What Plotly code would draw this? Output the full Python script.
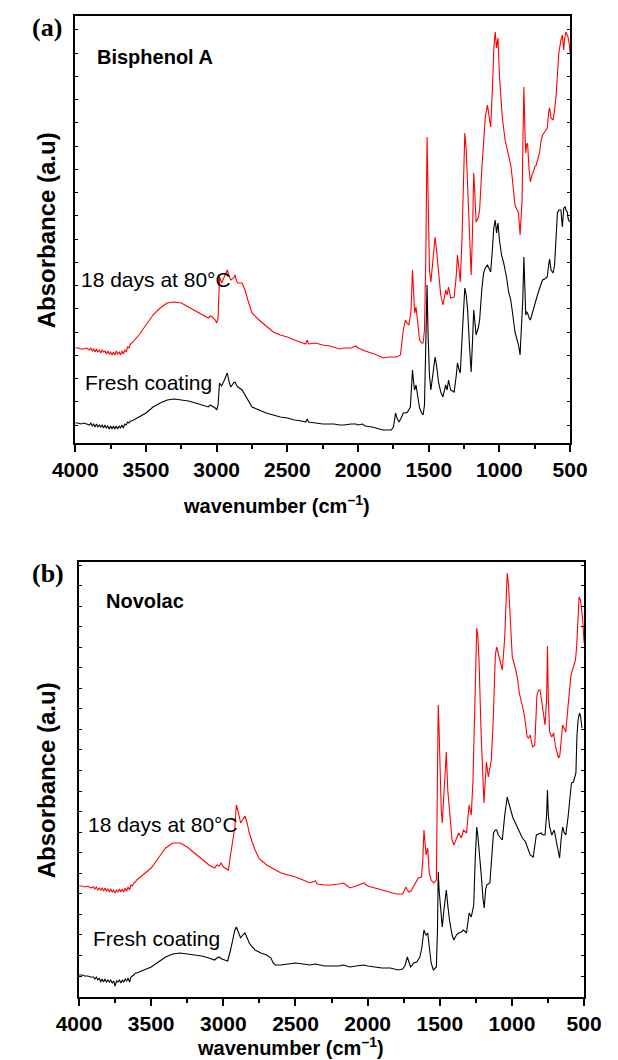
import plotly.graph_objects as go

# ---------------- Panel (a): Bisphenol A ----------------
wn_a_red = [4000, 3980, 3960, 3940, 3920, 3900, 3890, 3880, 3870, 3860, 3850, 3840, 3830, 3820, 3810, 3800,
            3790, 3780, 3770, 3760, 3750, 3740, 3730, 3720, 3710, 3700, 3690, 3680, 3670, 3660, 3650, 3640,
            3630, 3620, 3610, 3600, 3550, 3500, 3450, 3400, 3350, 3300,
            3250, 3200, 3150, 3100, 3060, 3045, 3030, 3010, 3000, 2990, 2980, 2965, 2945, 2925, 2910, 2900,
            2880, 2870, 2860, 2850, 2820, 2800, 2780, 2750, 2700, 2650, 2600, 2550, 2500, 2450, 2400, 2370,
            2360, 2350, 2300, 2250, 2200, 2170, 2130, 2100, 2050, 2015, 2000, 1950, 1900, 1885, 1850, 1820,
            1780, 1750, 1730, 1700, 1680, 1665, 1655, 1640, 1625, 1615, 1605, 1600, 1590, 1580, 1565, 1550,
            1540, 1530, 1520, 1512, 1505, 1495, 1485, 1470, 1455, 1445, 1430, 1415, 1400, 1390, 1380, 1370,
            1360, 1345, 1320, 1305, 1297, 1285, 1277, 1265, 1252, 1245, 1235, 1225, 1210, 1200, 1190, 1182,
            1175, 1165, 1150, 1140, 1125, 1110, 1100, 1085, 1075, 1062, 1050, 1040, 1030, 1025, 1020, 1015,
            1010, 1000, 990, 980, 960, 935, 920, 910, 890, 875, 865, 854, 840, 835, 827, 820, 814, 808, 801,
            790, 781, 770, 760, 750, 740, 730, 715, 705, 695, 680, 662, 650, 645, 635, 620, 610, 600, 590,
            580, 565, 555, 545, 540, 530, 520, 515, 505, 500]
abs_a_red = [0.95, 0.95, 0.94, 0.94, 0.95, 0.93, 0.95, 0.92, 0.94, 0.91, 0.94, 0.91, 0.93, 0.90, 0.93, 0.91,
             0.92, 0.89, 0.92, 0.89, 0.91, 0.88, 0.91, 0.88, 0.92, 0.89, 0.91, 0.88, 0.92, 0.89, 0.93, 0.91,
             0.96, 0.95, 0.99, 1.00, 1.08, 1.18, 1.28, 1.35, 1.40, 1.41,
             1.40, 1.36, 1.32, 1.28, 1.25, 1.27, 1.26, 1.23, 1.20, 1.25, 1.66, 1.60, 1.67, 1.73, 1.66, 1.63,
             1.65, 1.68, 1.62, 1.60, 1.60, 1.53, 1.43, 1.30, 1.23, 1.17, 1.11, 1.08, 1.06, 1.03, 1.00, 0.99,
             1.03, 0.99, 1.00, 0.98, 0.97, 0.96, 0.94, 0.95, 0.95, 0.97, 0.95, 0.92, 0.90, 0.89, 0.87, 0.85,
             0.86, 0.86, 0.86, 0.88, 1.13, 1.23, 1.20, 1.18, 1.33, 1.73, 1.43, 1.30, 1.36, 1.23, 1.03, 1.00,
             1.00, 1.13, 1.93, 3.06, 2.43, 1.73, 1.61, 1.83, 2.06, 1.93, 1.70, 1.48, 1.38, 1.45, 1.53, 1.48,
             1.56, 1.45, 1.46, 1.68, 1.88, 1.73, 1.61, 2.03, 2.93, 3.10, 2.93, 2.56, 1.93, 1.68, 2.13, 2.70,
             2.53, 2.21, 2.25, 2.33, 2.73, 3.13, 3.26, 3.38, 3.28, 3.16, 3.53, 3.93, 4.11, 4.03, 3.95, 4.01,
             4.05, 3.68, 3.43, 3.26, 3.03, 2.86, 2.78, 2.66, 2.38, 2.33, 2.30, 2.08, 2.43, 2.93, 3.56, 3.13,
             2.90, 2.98, 3.00, 2.73, 2.61, 2.68, 2.71, 2.76, 2.78, 2.83, 2.91, 3.03, 3.08, 3.11, 3.15, 3.33,
             3.35, 3.25, 3.23, 3.33, 3.46, 3.68, 3.90, 4.03, 4.08, 3.93, 4.03, 4.11, 4.08, 4.06, 3.98, 3.90]

wn_a_blk = [4000, 3980, 3960, 3940, 3920, 3900, 3890, 3880, 3870, 3860, 3850, 3840, 3830, 3820, 3810, 3800,
            3790, 3780, 3770, 3760, 3750, 3740, 3730, 3720, 3710, 3700, 3690, 3680, 3670, 3660, 3650, 3640,
            3630, 3620, 3610, 3600, 3550, 3500, 3450, 3400, 3350, 3300,
            3250, 3200, 3150, 3100, 3060, 3045, 3030, 3010, 3000, 2990, 2980, 2965, 2945, 2925, 2910, 2900,
            2880, 2870, 2860, 2850, 2820, 2800, 2780, 2750, 2700, 2650, 2600, 2550, 2500, 2450, 2400, 2370,
            2360, 2350, 2300, 2250, 2200, 2170, 2130, 2100, 2050, 2015, 2000, 1970, 1950, 1900, 1850, 1820,
            1765, 1750, 1745, 1735, 1725, 1710, 1695, 1680, 1665, 1650, 1630, 1615, 1605, 1600, 1590, 1580,
            1565, 1550, 1540, 1530, 1520, 1512, 1505, 1495, 1485, 1470, 1455, 1445, 1430, 1415, 1400, 1390,
            1380, 1370, 1360, 1345, 1320, 1305, 1297, 1285, 1277, 1265, 1252, 1245, 1235, 1225, 1210, 1200,
            1190, 1182, 1175, 1165, 1150, 1140, 1125, 1112, 1100, 1085, 1075, 1062, 1050, 1040, 1030, 1025,
            1020, 1015, 1010, 1000, 985, 970, 950, 935, 920, 910, 890, 875, 865, 854, 840, 835, 827, 820,
            814, 808, 801, 790, 781, 765, 750, 735, 720, 710, 695, 680, 662, 650, 645, 635, 620, 610, 600,
            590, 580, 565, 555, 545, 535, 530, 520, 515, 505, 500]
abs_a_blk = [0.20, 0.20, 0.19, 0.20, 0.19, 0.18, 0.20, 0.17, 0.19, 0.16, 0.19, 0.16, 0.18, 0.16, 0.18, 0.15,
             0.18, 0.15, 0.17, 0.14, 0.17, 0.14, 0.17, 0.14, 0.17, 0.14, 0.17, 0.15, 0.18, 0.15, 0.19, 0.18,
             0.21, 0.20, 0.22, 0.22, 0.26, 0.30, 0.36, 0.40, 0.43, 0.44,
             0.43, 0.42, 0.40, 0.38, 0.36, 0.38, 0.37, 0.35, 0.33, 0.38, 0.60, 0.57, 0.63, 0.70, 0.60, 0.56,
             0.60, 0.61, 0.58, 0.56, 0.53, 0.48, 0.43, 0.36, 0.33, 0.30, 0.28, 0.26, 0.25, 0.23, 0.22, 0.21,
             0.24, 0.21, 0.20, 0.19, 0.19, 0.19, 0.18, 0.18, 0.19, 0.19, 0.18, 0.19, 0.17, 0.16, 0.14, 0.13,
             0.13, 0.16, 0.20, 0.30, 0.25, 0.21, 0.25, 0.30, 0.30, 0.31, 0.36, 0.73, 0.58, 0.53, 0.58, 0.48,
             0.35, 0.30, 0.28, 0.38, 1.03, 1.58, 1.10, 0.68, 0.53, 0.73, 0.86, 0.78, 0.60, 0.51, 0.46, 0.52,
             0.58, 0.53, 0.63, 0.53, 0.51, 0.68, 0.80, 0.73, 0.70, 1.03, 1.48, 1.55, 1.48, 1.33, 0.93, 0.71,
             1.03, 1.33, 1.23, 1.08, 1.15, 1.23, 1.53, 1.70, 1.75, 1.78, 1.75, 1.71, 1.93, 2.15, 2.23, 2.16,
             2.10, 2.16, 2.20, 2.03, 1.88, 1.80, 1.66, 1.51, 1.43, 1.33, 1.11, 1.03, 0.98, 0.88, 1.23, 1.43,
             1.86, 1.53, 1.28, 1.31, 1.30, 1.25, 1.23, 1.31, 1.40, 1.46, 1.53, 1.58, 1.63, 1.64, 1.66, 1.80,
             1.84, 1.73, 1.70, 1.78, 2.08, 2.30, 2.33, 2.33, 2.16, 2.35, 2.36, 2.33, 2.31, 2.25, 2.21]

# ---------------- Panel (b): Novolac ----------------
wn_b_red = [4000, 3980, 3960, 3940, 3920, 3900, 3890, 3880, 3870, 3860, 3850, 3840, 3830, 3820, 3810, 3800,
            3790, 3780, 3770, 3760, 3750, 3740, 3730, 3720, 3710, 3700, 3690, 3680, 3670, 3660, 3650, 3640,
            3630, 3620, 3610, 3600, 3550, 3500, 3450, 3400, 3350, 3300,
            3250, 3200, 3150, 3100, 3060, 3045, 3030, 3015, 3000, 2980, 2965, 2950, 2935, 2920, 2910, 2900,
            2880, 2865, 2850, 2835, 2820, 2800, 2780, 2750, 2700, 2650, 2600, 2550, 2500, 2447, 2400, 2361,
            2350, 2300, 2253, 2200, 2167, 2140, 2123, 2080, 2026, 2000, 1950, 1900, 1843, 1800, 1757, 1735,
            1725, 1714, 1700, 1692, 1670, 1649, 1627, 1618, 1610, 1600, 1595, 1584, 1573, 1560, 1541, 1524,
            1516, 1511, 1505, 1498, 1490, 1483, 1470, 1455, 1445, 1433, 1415, 1403, 1385, 1369, 1351, 1336,
            1315, 1300, 1297, 1282, 1270, 1261, 1250, 1244, 1237, 1229, 1214, 1200, 1194, 1185, 1177, 1164,
            1143, 1130, 1123, 1115, 1106, 1095, 1089, 1075, 1067, 1050, 1040, 1033, 1024, 1010, 998, 977,
            960, 949, 930, 917, 905, 895, 885, 874, 865, 857, 842, 835, 827, 815, 805, 795, 788, 771, 760,
            754, 748, 739, 724, 711, 698, 685, 677, 668, 660, 649, 640, 627, 612, 600, 591, 574, 560, 552,
            545, 535, 525, 520, 510, 500]
abs_b_red = [1.11, 1.11, 1.10, 1.11, 1.09, 1.10, 1.08, 1.10, 1.07, 1.09, 1.07, 1.09, 1.06, 1.09, 1.06, 1.08,
             1.05, 1.08, 1.05, 1.07, 1.04, 1.07, 1.05, 1.08, 1.05, 1.08, 1.05, 1.09, 1.06, 1.10, 1.07, 1.12,
             1.11, 1.14, 1.15, 1.17, 1.23, 1.29, 1.39, 1.49, 1.54, 1.54,
             1.50, 1.44, 1.38, 1.32, 1.29, 1.32, 1.31, 1.34, 1.30, 1.28, 1.27, 1.42, 1.57, 1.70, 1.92, 1.87,
             1.74, 1.77, 1.81, 1.74, 1.64, 1.55, 1.47, 1.38, 1.32, 1.28, 1.24, 1.22, 1.20, 1.17, 1.14, 1.16,
             1.13, 1.12, 1.12, 1.13, 1.14, 1.11, 1.09, 1.11, 1.14, 1.11, 1.09, 1.07, 1.04, 1.03, 1.03, 1.10,
             1.07, 1.05, 1.06, 1.08, 1.13, 1.19, 1.20, 1.37, 1.67, 1.45, 1.42, 1.49, 1.24, 1.17, 1.14, 1.17,
             1.97, 2.92, 2.67, 2.27, 1.87, 1.74, 2.07, 2.45, 2.07, 1.84, 1.57, 1.52, 1.59, 1.64, 1.59, 1.67,
             1.64, 1.87, 1.92, 1.82, 2.17, 2.70, 3.37, 3.69, 3.62, 3.40, 2.64, 2.12, 1.94, 2.17, 2.35, 2.20,
             2.37, 2.77, 3.17, 3.42, 3.50, 3.44, 3.40, 3.32, 3.27, 3.60, 4.02, 4.24, 4.12, 3.67, 3.40, 3.29,
             3.17, 3.04, 2.92, 2.84, 2.72, 2.60, 2.59, 2.62, 2.55, 2.50, 2.52, 2.77, 3.02, 3.07, 3.07, 2.97,
             2.90, 2.72, 2.97, 3.51, 2.97, 2.65, 2.60, 2.64, 2.50, 2.42, 2.39, 2.42, 2.54, 2.72, 2.69, 2.65,
             2.90, 3.07, 3.22, 3.30, 3.37, 3.50, 3.77, 4.00, 3.97, 3.92, 3.77, 3.54]

wn_b_blk = [4000, 3980, 3960, 3940, 3920, 3900, 3890, 3880, 3870, 3860, 3850, 3840, 3830, 3820, 3810, 3800,
            3790, 3780, 3770, 3760, 3750, 3740, 3730, 3720, 3710, 3700, 3690, 3680, 3670, 3660, 3650, 3640,
            3630, 3620, 3610, 3600, 3550, 3500, 3450, 3400, 3350, 3300,
            3250, 3200, 3150, 3100, 3060, 3045, 3030, 3010, 2990, 2970, 2950, 2935, 2920, 2910, 2895, 2880,
            2865, 2850, 2835, 2820, 2800, 2780, 2740, 2700, 2670, 2655, 2640, 2600, 2550, 2500, 2447, 2400,
            2361, 2300, 2253, 2200, 2167, 2123, 2080, 2026, 2000, 1950, 1900, 1843, 1789, 1757, 1740, 1725,
            1715, 1703, 1690, 1681, 1660, 1638, 1625, 1610, 1600, 1595, 1584, 1573, 1560, 1545, 1524, 1516,
            1511, 1505, 1498, 1490, 1483, 1470, 1455, 1445, 1433, 1415, 1403, 1385, 1369, 1351, 1336, 1315,
            1300, 1297, 1282, 1265, 1255, 1244, 1237, 1229, 1214, 1200, 1192, 1183, 1175, 1153, 1140, 1128,
            1115, 1106, 1095, 1085, 1067, 1050, 1040, 1033, 1024, 1014, 993, 960, 928, 906, 885, 874, 853,
            842, 831, 815, 799, 785, 771, 760, 754, 748, 739, 724, 707, 692, 680, 670, 660, 649, 640, 627,
            612, 600, 588, 574, 557, 550, 542, 532, 525, 515, 500]
abs_b_blk = [0.22, 0.22, 0.21, 0.21, 0.20, 0.20, 0.18, 0.20, 0.17, 0.19, 0.15, 0.18, 0.15, 0.18, 0.15, 0.17,
             0.15, 0.17, 0.14, 0.16, 0.11, 0.16, 0.15, 0.17, 0.14, 0.17, 0.15, 0.18, 0.16, 0.19, 0.15, 0.20,
             0.21, 0.22, 0.24, 0.24, 0.27, 0.30, 0.35, 0.40, 0.43, 0.44,
             0.43, 0.42, 0.41, 0.39, 0.37, 0.39, 0.40, 0.38, 0.37, 0.36, 0.47, 0.57, 0.67, 0.70, 0.64, 0.59,
             0.62, 0.64, 0.59, 0.54, 0.50, 0.47, 0.44, 0.42, 0.39, 0.34, 0.32, 0.32, 0.33, 0.34, 0.33, 0.32,
             0.33, 0.31, 0.31, 0.31, 0.32, 0.30, 0.31, 0.32, 0.31, 0.30, 0.29, 0.29, 0.27, 0.28, 0.32, 0.40,
             0.35, 0.30, 0.32, 0.34, 0.35, 0.40, 0.49, 0.67, 0.63, 0.62, 0.64, 0.47, 0.34, 0.27, 0.30, 0.67,
             1.25, 1.07, 0.94, 0.79, 0.70, 0.89, 1.07, 0.92, 0.77, 0.62, 0.57, 0.62, 0.64, 0.65, 0.67, 0.64,
             0.79, 0.84, 0.80, 0.92, 1.37, 1.70, 1.62, 1.50, 1.24, 0.97, 0.89, 1.07, 1.12, 1.14, 1.37, 1.64,
             1.67, 1.67, 1.62, 1.60, 1.57, 1.82, 1.97, 2.00, 1.95, 1.90, 1.79, 1.69, 1.59, 1.55, 1.47, 1.42,
             1.40, 1.52, 1.62, 1.63, 1.64, 1.62, 1.62, 1.82, 2.07, 1.82, 1.70, 1.62, 1.67, 1.55, 1.45, 1.39,
             1.57, 1.70, 1.65, 1.62, 1.79, 1.97, 2.14, 2.15, 2.24, 2.60, 2.77, 2.84, 2.81, 2.69]

# ---------------- Figure ----------------
W, H = 618, 1060
def px(x):
    return x / W
def py(y):
    return 1 - y / H

fig = go.Figure()
fig.add_trace(go.Scatter(x=wn_a_red, y=abs_a_red, mode="lines", line=dict(color="#ff0000", width=1.1),
                         xaxis="x", yaxis="y", showlegend=False))
fig.add_trace(go.Scatter(x=wn_a_blk, y=abs_a_blk, mode="lines", line=dict(color="#000000", width=1.1),
                         xaxis="x", yaxis="y", showlegend=False))
fig.add_trace(go.Scatter(x=wn_b_red, y=abs_b_red, mode="lines", line=dict(color="#ff0000", width=1.1),
                         xaxis="x2", yaxis="y2", showlegend=False))
fig.add_trace(go.Scatter(x=wn_b_blk, y=abs_b_blk, mode="lines", line=dict(color="#000000", width=1.1),
                         xaxis="x2", yaxis="y2", showlegend=False))

lab = "Liberation Sans, Arial, sans-serif"
serif = "Liberation Serif, Times New Roman, serif"
tickfont = dict(family=lab, size=21, color="black", weight="bold")

major = [4000, 3500, 3000, 2500, 2000, 1500, 1000, 500]
minor = [3750, 3250, 2750, 2250, 1750, 1250, 750]

def xaxis_cfg(domain, anchor):
    return dict(domain=domain, anchor=anchor, range=[4000, 500], autorange=False,
                tickmode="array", tickvals=major, ticktext=[str(v) for v in major],
                ticks="outside", ticklen=7, tickwidth=1.5, tickcolor="black",
                minor=dict(tickmode="array", tickvals=minor,
                           ticks="outside", ticklen=4, tickwidth=1.5, tickcolor="black"),
                showline=True, linecolor="black", linewidth=2, mirror=True,
                showgrid=False, zeroline=False, tickfont=tickfont)

def yaxis_cfg(domain, anchor, rng, t0, dt):
    return dict(domain=domain, anchor=anchor, range=rng, autorange=False,
                tick0=t0, dtick=dt, tickmode="linear", showticklabels=False,
                ticks="inside", ticklen=3, tickwidth=1, tickcolor="black",
                showline=True, linecolor="black", linewidth=2, mirror="ticks",
                showgrid=False, zeroline=False)

fig.update_layout(
    width=W, height=H, margin=dict(l=0, r=0, t=0, b=0),
    paper_bgcolor="white", plot_bgcolor="white",
    xaxis=xaxis_cfg([px(56), px(586)], "y"),
    yaxis=yaxis_cfg([py(443), py(16)], "x", [0, 4.27], 0.18, 0.2324),
    xaxis2=xaxis_cfg([px(60), px(601)], "y2"),
    yaxis2=yaxis_cfg([py(997), py(562)], "x2", [0, 4.35], 0.21, 0.2055),
)

ann = [
    dict(text="<b>(a)</b>", x=px(26), y=py(27), font=dict(family=serif, size=26), xanchor="center"),
    dict(text="<b>Bisphenol A</b>", x=px(77), y=py(57), font=dict(family=lab, size=20), xanchor="left"),
    dict(text="18 days at 80°C", x=px(60), y=py(279), font=dict(family=lab, size=21), xanchor="left"),
    dict(text="Fresh coating", x=px(64), y=py(382), font=dict(family=lab, size=21), xanchor="left"),
    dict(text="<b>Absorbance (a.u)</b>", x=px(25), y=py(230), textangle=-90,
         font=dict(family=lab, size=24), xanchor="center"),
    dict(text="<b>wavenumber (cm<sup>–1</sup>)</b>", x=px(272), y=py(505),
         font=dict(family=lab, size=20), xanchor="center"),
    dict(text="<b>(b)</b>", x=px(27), y=py(573), font=dict(family=serif, size=26), xanchor="center"),
    dict(text="<b>Novolac</b>", x=px(87), y=py(601), font=dict(family=lab, size=20), xanchor="left"),
    dict(text="18 days at 80°C", x=px(67), y=py(824), font=dict(family=lab, size=21), xanchor="left"),
    dict(text="Fresh coating", x=px(73), y=py(938), font=dict(family=lab, size=21), xanchor="left"),
    dict(text="<b>Absorbance (a.u)</b>", x=px(25), y=py(780), textangle=-90,
         font=dict(family=lab, size=24), xanchor="center"),
    dict(text="<b>wavenumber (cm<sup>–1</sup>)</b>", x=px(287), y=py(1046),
         font=dict(family=lab, size=20), xanchor="center"),
]
for a in ann:
    a.update(xref="paper", yref="paper", showarrow=False, yanchor="middle")
    a["font"]["color"] = "black"
fig.update_layout(annotations=ann)

fig.write_html("out.html")
